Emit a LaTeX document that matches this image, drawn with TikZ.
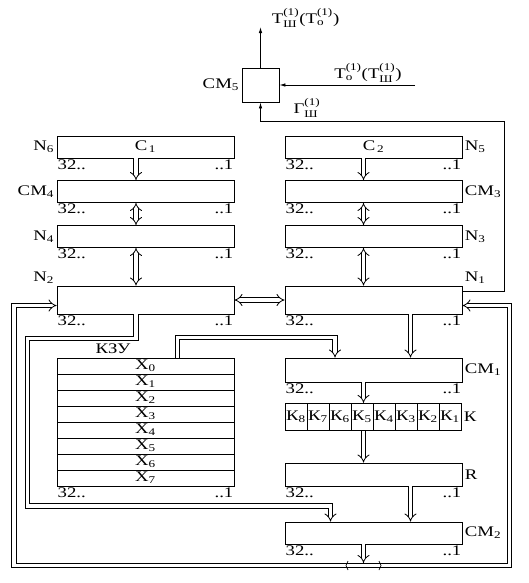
\documentclass[tikz,border=0pt]{standalone}
\usepackage{amsmath}
\usepackage{fontspec}
\setmainfont{Liberation Serif}[FakeStretch=1.28]
\usetikzlibrary{arrows.meta,calc}
\newcommand{\ix}[2]{$_{\text{#1}}^{\text{#2}}$}

\begin{document}
\begin{tikzpicture}[x=0.75pt,y=-0.75pt,line width=0.6pt,font=\fontsize{11}{13}\selectfont]
      \tikzstyle{reg} = [rectangle, draw, minimum width=132.75pt, minimum height=16.5pt, inner sep=0pt]
      \tikzstyle{row} = [rectangle, draw, minimum width=132.75pt, minimum height=12pt, inner sep=0pt]
      \tikzstyle{kcell} = [rectangle, draw, minimum width=16.5pt, minimum height=20.5pt, inner sep=0pt]
      \tikzstyle{bus} = [double, double distance=2.6pt, line width=0.6pt]
      \tikzstyle{sig} = [-{Latex[length=4.5pt,width=2.6pt]}]
      \tikzstyle{side} = [inner sep=1.5pt]
      \tikzstyle{bits} = [inner sep=0.5pt]

      \useasboundingbox (0,0) rectangle (529,583);

      % registers, left column
      \node[reg] (c1) at (145.5,147) {С\textsubscript{\,1}};
      \node[reg] (cm4) at (145.5,191.5) {};
      \node[reg] (n4) at (145.5,236.5) {};
      \node[reg, minimum height=21pt] (n2) at (145.5,300) {};

      % registers, right column
      \node[reg] (c2) at (373.5,147) {С\textsubscript{\,2}};
      \node[reg] (cm3) at (373.5,191.5) {};
      \node[reg] (n3) at (373.5,236.5) {};
      \node[reg, minimum height=21pt] (n1) at (373.5,300) {};
      \node[reg, minimum height=18pt] (cm1) at (373.5,370) {};
      \node[reg, minimum height=17.25pt] (r) at (373.5,474.5) {};
      \node[reg] (cm2) at (373.5,533) {};

      % key memory
      \foreach \i in {0,...,7}
        \node[row] (x\i) at (145.5,366+16*\i) {X\textsubscript{\i}};
      \node (kzu) at (113,349) {КЗУ};

      % key register
      \foreach \i [evaluate=\i as \k using {int(8-\i)}] in {0,...,7}
        \node[kcell] (k\k) at (296+22*\i,417) {К\textsubscript{\k}};

      \node[rectangle, draw, minimum width=27.75pt, minimum height=25.5pt] (cm5) at (260.5,85) {};

      % names
      \node[side, anchor=east] (ln6) at (c1.west) {N\textsubscript{6}};
      \node[side, anchor=east] (lcm4) at (cm4.west) {СМ\textsubscript{4}};
      \node[side, anchor=east] (ln4) at (n4.west) {N\textsubscript{4}};
      \node[side, anchor=south east] (ln2) at (n2.north west) {N\textsubscript{2}};
      \node[side, anchor=west] (ln5) at (c2.east) {N\textsubscript{5}};
      \node[side, anchor=west] (lcm3) at (cm3.east) {СМ\textsubscript{3}};
      \node[side, anchor=west] (ln3) at (n3.east) {N\textsubscript{3}};
      \node[side, anchor=south west] (ln1) at (n1.north east) {N\textsubscript{1}};
      \node[side, anchor=west] (lcm1) at (cm1.east) {СМ\textsubscript{1}};
      \node[side, anchor=west] (lk) at (k1.east) {К};
      \node[side, anchor=west] (lr) at (r.east) {R};
      \node[side, anchor=west] (lcm2) at (cm2.east) {СМ\textsubscript{2}};
      \node[side, anchor=east] (lcm5) at (cm5.west) {СМ\textsubscript{5}};

      \foreach \b in {c1,cm4,n4,n2,c2,cm3,n3,n1,cm1,r,cm2,x7} {
        \node[bits, anchor=north west] (\b-hi) at (\b.south west) {32..};
        \node[bits, anchor=north east] (\b-lo) at (\b.south east) {..1};
      }

      % columns of the buses
      \coordinate (al) at (136,0);
      \coordinate (ar) at (363.5,0);
      \coordinate (ao) at (410.5,0);

      \draw[bus, -{Implies}] (c1.south -| al) -- (cm4.north -| al);
      \draw[bus, {Implies}-{Implies}] (cm4.south -| al) -- (n4.north -| al);
      \draw[bus, {Implies}-{Implies}] (n4.south -| al) -- (n2.north -| al);
      \draw[bus, -{Implies}] (c2.south -| ar) -- (cm3.north -| ar);
      \draw[bus, {Implies}-{Implies}] (cm3.south -| ar) -- (n3.north -| ar);
      \draw[bus, {Implies}-{Implies}] (n3.south -| ar) -- (n1.north -| ar);
      \draw[bus, {Implies}-{Implies}] (n2.east) -- (n1.west);

      \draw[bus, -{Implies}] (n1.south -| ao) -- (cm1.north -| ao);
      \coordinate (kz1) at (177.5,337.5);
      \coordinate (kz2) at (335,337.5);
      \draw[bus, -{Implies}] (x0.north -| kz1) -- (kz1) -- (kz2) -- (cm1.north -| kz2);
      \draw[bus, -{Implies}] (cm1.south -| ar) -- (k5.north -| ar);
      \draw[bus, -{Implies}] (k5.south -| ar) -- (r.north -| ar);
      \draw[bus, -{Implies}] (r.south -| ao) -- (cm2.north -| ao);

      \coordinate (lp1) at (27.5,338.5);
      \coordinate (lp2) at (27.5,506);
      \coordinate (lp3) at (330.5,506);
      \draw[bus, -{Implies}] (n2.south -| al) |- (lp1) -- (lp2) -- (lp3) -- (cm2.north -| lp3);

      % output bus back to N1 and N2
      \coordinate (split) at (363.5,565.5);
      \coordinate (bl) at (14,565.5);
      \coordinate (br) at (509.5,565.5);
      \draw[bus, -{Implies}] (split) -- (bl) |- ($(n2.west)+(0,5.5)$);
      \draw[bus, -{Implies}] (split) -- (br) |- ($(n1.east)+(0,5.5)$);
      \draw[bus, -{Implies}] (cm2.south -| ar) -- ($(split)+(0,-2.5)$);
      \coordinate (ml) at (346,565.5);
      \coordinate (mr) at (381,565.5);
      \draw[line width=0.5pt] ($(ml)+(2,-4.5)$) -- (ml) -- ($(ml)+(2,4.5)$);
      \draw[line width=0.5pt] ($(mr)+(-2,-4.5)$) -- (mr) -- ($(mr)+(-2,4.5)$);

      % CM5
      \coordinate (tout) at (260.5,27);
      \coordinate (tin) at (415,85);
      \coordinate (fb) at (504,121);
      \draw[sig] (cm5.north) -- (tout);
      \draw[sig] (tin) -- (cm5.east);
      \draw[sig] ($(n1.north east)+(0,6)$) -| (fb) -| (cm5.south);
      \node[anchor=west] (tsh) at (267,18) {Т\ix{Ш}{(1)}(Т\ix{о}{(1)})};
      \node (to) at (368,73) {Т\ix{о}{(1)}(Т\ix{Ш}{(1)})};
      \node (gsh) at (307,108) {Г\ix{Ш}{(1)}};
    \end{tikzpicture}
\end{document}
